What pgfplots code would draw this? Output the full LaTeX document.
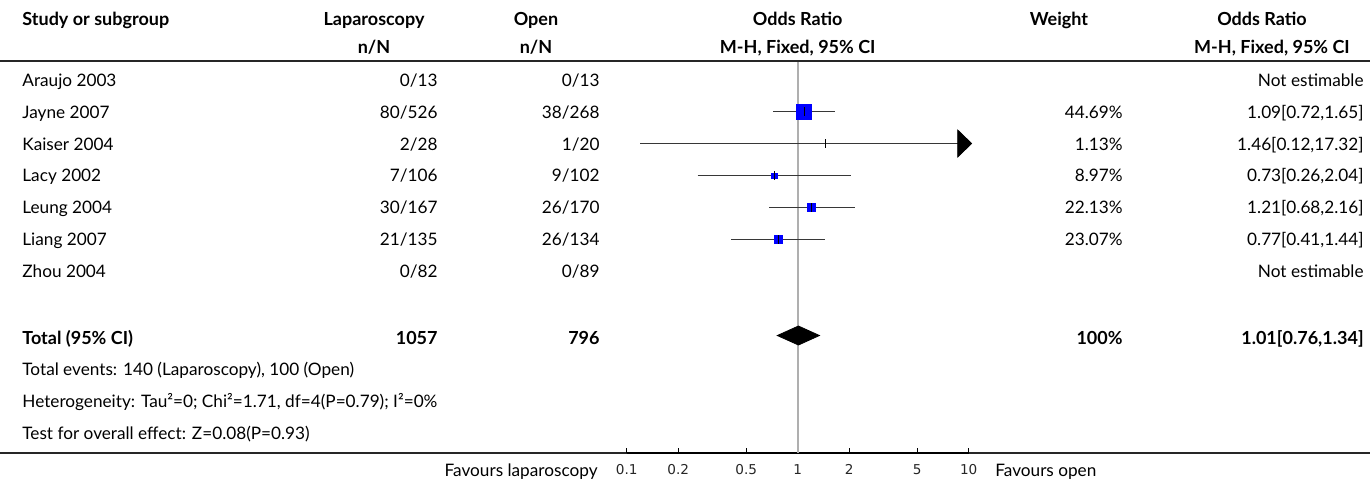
\documentclass[border=0pt]{standalone}
\usepackage{pgfplots}
\pgfplotsset{compat=1.18}
\usepackage{fontspec}
\setmainfont{Lato}
\newfontfamily\tickfont{DejaVu Sans}
\definecolor{sq}{RGB}{0,0,255}
\definecolor{ln}{RGB}{55,55,55}
\definecolor{refl}{RGB}{175,175,175}
\newcommand\rg{\fontsize{8.6pt}{10pt}\selectfont}
\newcommand\bd{\fontsize{9.0pt}{10pt}\selectfont\bfseries}
\begin{document}
\begin{tikzpicture}
\useasboundingbox (0pt,0pt) rectangle (685pt,-242pt);
\begin{scope}[x=0.5pt,y=-0.5pt,every node/.style={inner sep=0pt,font=\rg}]
% header
\node[anchor=base west,font=\bd] at (22,25) {Study or subgroup};
\node[anchor=base,font=\bd] at (374,25) {Laparoscopy};
\node[anchor=base,font=\bd] at (374,53.3) {n/N};
\node[anchor=base,font=\bd] at (536,25) {Open};
\node[anchor=base,font=\bd] at (536,53.3) {n/N};
\node[anchor=base,font=\bd] at (797.7,25) {Odds Ratio};
\node[anchor=base,font=\bd] at (797.7,53.3) {M-H, Fixed, 95\% CI};
\node[anchor=base,font=\bd] at (1059,25) {Weight};
\node[anchor=base,font=\bd] at (1262,25) {Odds Ratio};
\node[anchor=base,font=\bd] at (1272,53.3) {M-H, Fixed, 95\% CI};
\draw[line width=0.7pt,black!85] (0,61) -- (1370,61);
% study rows
\foreach \yy/\st/\a/\b/\w/\orci in {86.5/Araujo 2003/0\slash 13/0\slash 13//Not estimable,
  118.3/Jayne 2007/80\slash 526/38\slash 268/44.69\%/{1.09[0.72,1.65]},
  150.1/Kaiser 2004/2\slash 28/1\slash 20/1.13\%/{1.46[0.12,17.32]},
  181.9/Lacy 2002/7\slash 106/9\slash 102/8.97\%/{0.73[0.26,2.04]},
  213.7/Leung 2004/30\slash 167/26\slash 170/22.13\%/{1.21[0.68,2.16]},
  245.5/Liang 2007/21\slash 135/26\slash 134/23.07\%/{0.77[0.41,1.44]},
  277.3/Zhou 2004/0\slash 82/0\slash 89//Not estimable}{
  \node[anchor=base west] at (22,\yy) {\st};
  \node[anchor=base east] at (438,\yy) {\a};
  \node[anchor=base east] at (600,\yy) {\b};
  \node[anchor=base east] at (1123,\yy) {\w};
  \node[anchor=base east] at (1364,\yy) {\orci};
}
% totals
\node[anchor=base west,font=\bd] at (22,344) {Total (95\% CI)};
\node[anchor=base east,font=\bd] at (438,344) {1057};
\node[anchor=base east,font=\bd] at (600,344) {796};
\node[anchor=base east,font=\bd] at (1123,344) {100\%};
\node[anchor=base east,font=\bd] at (1364,344) {1.01[0.76,1.34]};
\node[anchor=base west] at (22,375.5) {Total events: 140 (Laparoscopy), 100 (Open)};
\node[anchor=base west] at (22,407.5) {Heterogeneity: Tau²=0; Chi²=1.71, df=4(P=0.79); I²=0\%};
\node[anchor=base west] at (22,439.5) {Test for overall effect: Z=0.08(P=0.93)};
\draw[line width=0.6pt,black!85] (0,453) -- (1370,453);
\node[anchor=base east] at (598,476) {Favours laparoscopy};
\node[anchor=base west] at (995,476) {Favours open};
\end{scope}
\begin{axis}[at={(313.35pt,-226.5pt)}, anchor=south west, scale only axis,
  width=171pt, height=195.5pt,
  xmode=log, xmin=0.1, xmax=10, ymin=62, ymax=453, y dir=reverse,
  axis x line=bottom, axis y line=none,
  x axis line style={-, line width=1.1pt, black},
  xtick={0.1,0.2,0.5,1,2,5,10}, xticklabels={0.1,0.2,0.5,1,2,5,10},
  minor xtick={}, tick align=inside, major tick length=2.6pt,
  xtick style={black, line width=0.5pt},
  xticklabel style={font=\tickfont\fontsize{6.8pt}{7pt}\selectfont, black!85, inner sep=1pt, yshift=-4.5pt},
  clip=false]
\addplot[refl, line width=0.8pt] coordinates {(1,62) (1,453)};
% confidence intervals
\addplot[ln, line width=0.9pt] coordinates {(0.72,111.5) (1.65,111.5)};
\addplot[ln, line width=0.9pt] coordinates {(0.12,143.5) (8.7,143.5)};
\addplot[ln, line width=0.9pt] coordinates {(0.26,175.5) (2.04,175.5)};
\addplot[ln, line width=0.9pt] coordinates {(0.68,207.5) (2.16,207.5)};
\addplot[ln, line width=0.9pt] coordinates {(0.41,239.5) (1.44,239.5)};
% arrow for Kaiser (upper CI 17.32 beyond axis)
\addplot[black, fill=black] coordinates {(8.62,130) (10.4,143.5) (8.62,157)} -- cycle;
% squares
\addplot[only marks, mark=square*, mark options={fill=sq, draw=sq}, mark size=3.75pt] coordinates {(1.09,111.5)};
\addplot[only marks, mark=square*, mark options={fill=sq, draw=sq}, mark size=1.3pt] coordinates {(0.73,175.5)};
\addplot[only marks, mark=square*, mark options={fill=sq, draw=sq}, mark size=2pt] coordinates {(1.21,207.5)};
\addplot[only marks, mark=square*, mark options={fill=sq, draw=sq}, mark size=2pt] coordinates {(0.77,239.5)};
\addplot[only marks, mark=|, mark size=2.2pt, mark options={black, line width=0.6pt}] coordinates {(1.09,111.5) (1.46,143.5) (0.73,175.5) (1.21,207.5) (0.77,239.5)};
% total diamond
\addplot[black, fill=black] coordinates {(0.76,335.5) (1.01,326) (1.34,335.5) (1.01,345)} -- cycle;
\end{axis}
\end{tikzpicture}
\end{document}
